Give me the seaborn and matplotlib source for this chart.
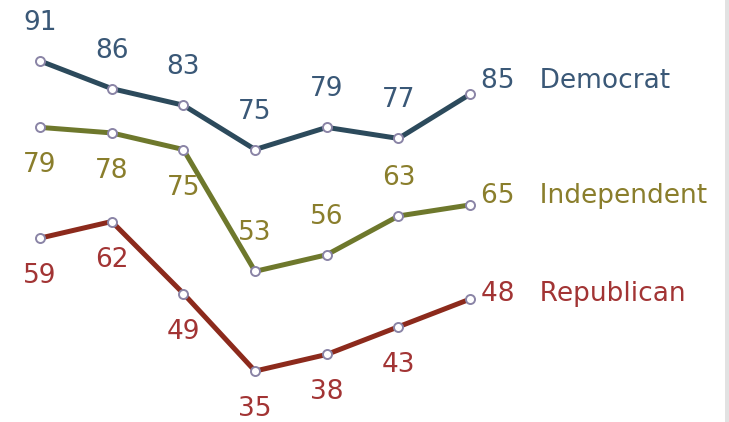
import pandas as pd
import matplotlib.pyplot as plt
import matplotlib.patches as mpatches
import seaborn as sns

sns.set_style("white")
plt.rcParams["font.family"] = ["DejaVu Sans"]

# --- data ---
parties = ["Democrat", "Independent", "Republican"]
democrat = [91, 86, 83, 75, 79, 77, 85]
independent = [79, 78, 75, 53, 56, 63, 65]
republican = [59, 62, 49, 35, 38, 43, 48]
steps = list(range(7))

line_colors = {"Democrat": "#2C4A5C", "Independent": "#6E782C", "Republican": "#8C2A1C"}
text_colors = {"Democrat": "#3A5877", "Independent": "#8A7E2C", "Republican": "#A23434"}
# label position: +1 above point, -1 below
label_side = {
    "Democrat": [1, 1, 1, 1, 1, 1],
    "Independent": [-1, -1, -1, 1, 1, 1],
    "Republican": [-1, -1, -1, -1, -1, -1],
}
end_dy = {"Democrat": 13, "Independent": 9, "Republican": 5}

values = {"Democrat": democrat, "Independent": independent, "Republican": republican}
df = pd.DataFrame(
    [(p, s, v) for p in parties for s, v in zip(steps, values[p])],
    columns=["party", "step", "value"],
)

fig = plt.figure(figsize=(7.29, 4.22), dpi=100)
ax = fig.add_axes([0, 0, 1, 1])

sns.lineplot(data=df, x="step", y="value", hue="party", palette=line_colors,
             linewidth=3.6, marker="o", markersize=6.5, markerfacecolor="white",
             markeredgecolor="#8A84A6", markeredgewidth=1.4, legend=False, ax=ax)

for p in parties:
    vals = values[p]
    for i, v in enumerate(vals[:-1]):
        ax.annotate(str(v), (steps[i], v), xytext=(0, 38 * label_side[p][i]),
                    textcoords="offset pixels", ha="center", va="center",
                    fontsize=19, color=text_colors[p])
    ax.annotate(f"{vals[-1]}   {p}", (steps[-1], vals[-1]), xytext=(11, end_dy[p]),
                textcoords="offset pixels", ha="left", va="center",
                fontsize=19, color=text_colors[p])

ax.set_xlim(-0.558, 9.61)
ax.set_ylim(25.8, 102.0)
ax.axis("off")

# grey strip on the right edge
fig.add_artist(mpatches.Rectangle((0.9945, 0), 0.0055, 1, transform=fig.transFigure,
                                  facecolor="#E2E2E2", edgecolor="none"))

fig.savefig("out.png", dpi=100)
